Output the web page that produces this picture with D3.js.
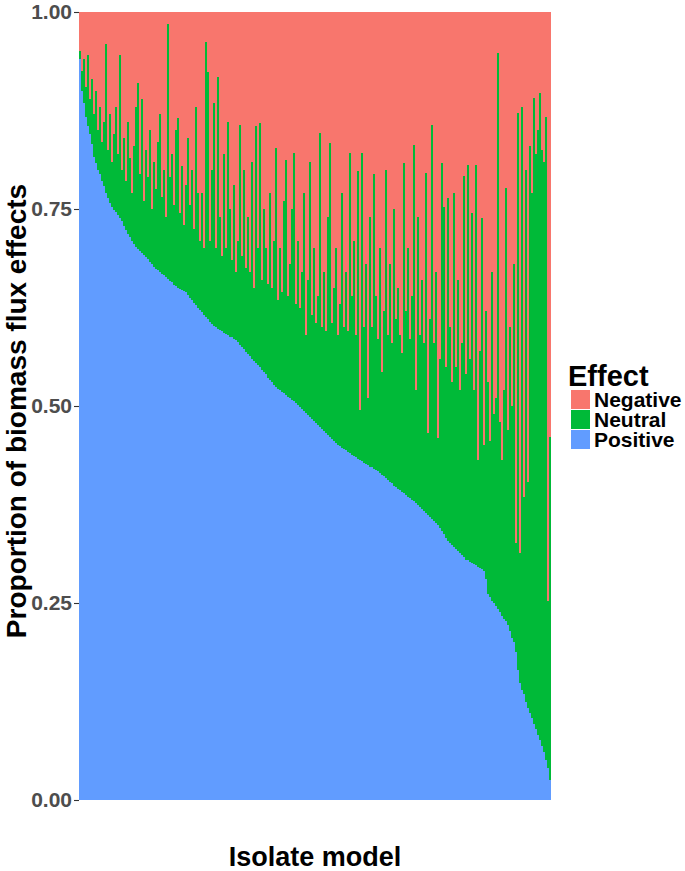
<!DOCTYPE html>
<html><head><meta charset="utf-8">
<script src="https://cdn.jsdelivr.net/npm/d3@7"></script>
<style>
body{margin:0;background:#fff}
svg{display:block}
text{font-family:"Liberation Sans",Arial,Helvetica,sans-serif;font-weight:bold}
</style>
</head><body>
<svg id="chart" width="685" height="871"></svg>
<script>
// Proportions (per mille) of positive and negative biomass-flux effects per isolate model
const positive = [
940,900,885,867,855,845,832,816,808,800,
794,786,779,770,764,758,752,749,746,742,
739,735,728,723,718,714,710,705,702,699,
697,694,691,689,686,683,680,677,674,672,
670,668,666,664,661,659,657,654,652,650,
648,647,646,645,641,637,634,631,628,625,
622,619,616,613,610,607,604,602,600,598,
597,595,593,592,590,588,587,585,584,581,
578,575,572,569,566,563,560,557,555,552,
549,546,543,540,536,533,530,527,524,522,
520,518,516,514,512,510,508,506,504,501,
499,496,494,491,488,486,483,481,478,476,
473,471,468,466,463,461,458,456,453,451,
449,447,446,444,442,440,438,437,435,433,
432,430,428,427,425,423,422,420,419,417,
415,413,411,408,406,404,402,399,397,395,
393,391,389,387,385,383,381,379,377,374,
372,369,367,364,362,359,357,354,352,349,
345,341,337,333,329,326,323,321,318,316,
313,311,308,305,304,302,301,299,298,296,
294,293,291,280,262,257,253,250,246,242,
239,234,230,227,222,214,206,200,188,165,
148,140,134,125,117,111,104,97,90,83,
76,69,61,51,40,25
];
const negative = [
50,75,60,95,55,110,85,130,100,150,
120,165,140,40,175,130,190,155,120,180,
55,200,160,215,140,185,230,170,120,90,
205,110,240,175,210,150,250,190,225,165,
130,235,200,260,15,210,180,245,150,135,
255,195,270,220,160,245,200,275,120,230,
290,230,300,38,76,290,200,116,300,82,
260,310,180,300,140,250,315,220,330,290,
143,310,200,325,260,330,190,350,145,300,
141,340,250,300,345,230,350,290,173,365,
300,355,240,188,360,320,250,179,370,290,
375,330,230,410,340,190,385,300,395,360,
154,400,330,405,260,166,395,350,300,410,
370,230,400,330,405,179,360,290,410,202,
505,179,400,320,490,260,400,205,360,415,
300,457,380,200,410,320,420,250,390,350,
410,433,192,380,300,415,360,169,480,260,
410,340,420,204,534,390,143,420,330,541,
440,192,247,450,236,400,470,230,450,340,
480,420,208,460,194,440,255,480,194,569,
430,262,550,380,470,545,330,510,490,52,
520,569,480,223,530,400,500,320,674,128,
687,121,615,200,597,170,230,109,180,150,
103,175,190,133,748,539
];
const effects = ["Negative", "Neutral", "Positive"];
const effectColors = ["#F8766D", "#00BA38", "#619CFF"];
const yTickValues = [0, 0.25, 0.5, 0.75, 1];
const yTickLabels = ["0.00", "0.25", "0.50", "0.75", "1.00"];

const isolates = positive.map((_, i) => "isolate" + (i + 1));
const rows = isolates.map((id, i) => ({
  id,
  Positive: positive[i] / 1000,
  Negative: negative[i] / 1000,
  Neutral: (1000 - positive[i] - negative[i]) / 1000
}));

const svg = d3.select("#chart");
const x = d3.scaleBand().domain(isolates).range([79, 551]).padding(0);
const y = d3.scaleLinear().domain([0, 1]).range([800, 12]);
const color = d3.scaleOrdinal().domain(effects).range(effectColors);

const series = d3.stack().keys(["Positive", "Neutral", "Negative"])(rows);

svg.append("g")
  .selectAll("g").data(series).join("g")
  .attr("fill", d => color(d.key))
  .selectAll("rect").data(d => d).join("rect")
  .attr("shape-rendering", "crispEdges")
  .attr("x", d => x(d.data.id))
  .attr("width", x.bandwidth())
  .attr("y", d => y(d[1]))
  .attr("height", d => y(d[0]) - y(d[1]));

// y axis
const yAxis = svg.append("g")
  .attr("transform", "translate(79,0)")
  .call(d3.axisLeft(y).tickValues(yTickValues)
    .tickFormat((d, i) => yTickLabels[i]).tickSize(5).tickPadding(2));
yAxis.select(".domain").remove();
yAxis.selectAll(".tick line").attr("stroke", "#333333").attr("stroke-width", 1.1);
yAxis.selectAll(".tick text")
  .attr("fill", "#4D4D4D")
  .style("font-size", "21px")
  .style("font-family", "'Liberation Sans', Arial, Helvetica, sans-serif")
  .style("font-weight", "bold");

// axis titles
svg.append("text")
  .attr("transform", "rotate(-90)")
  .attr("x", -411).attr("y", 26)
  .attr("text-anchor", "middle")
  .style("font-size", "28px")
  .attr("fill", "#000")
  .text("Proportion of biomass flux effects");

svg.append("text")
  .attr("x", 315).attr("y", 866)
  .attr("text-anchor", "middle")
  .style("font-size", "27px")
  .attr("fill", "#000")
  .text("Isolate model");

// legend
const legend = svg.append("g");
legend.append("text")
  .attr("x", 568).attr("y", 386)
  .style("font-size", "29px")
  .attr("fill", "#000")
  .text("Effect");
const items = legend.selectAll("g.item").data(effects).join("g")
  .attr("class", "item")
  .attr("transform", (d, i) => `translate(571,${390 + i * 20})`);
items.append("rect")
  .attr("width", 19).attr("height", 19)
  .attr("fill", d => color(d));
items.append("text")
  .attr("x", 23).attr("y", 17)
  .style("font-size", "21px")
  .attr("fill", "#000")
  .text(d => d);
</script>
</body></html>
